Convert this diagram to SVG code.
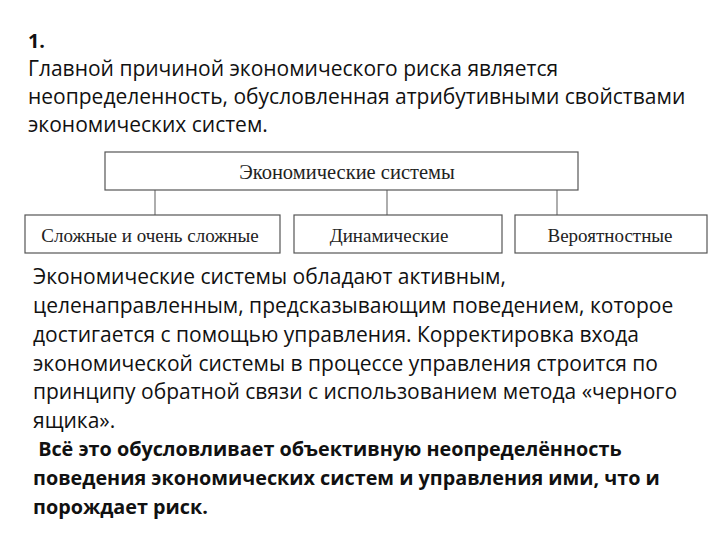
<svg xmlns="http://www.w3.org/2000/svg" width="720" height="540" viewBox="0 0 720 540">
<style>
.t{font-family:"Open Sans","Liberation Sans",sans-serif;font-size:21px;fill:#111}
.b{font-weight:bold;font-size:19.8px}
.n{font-family:"Liberation Serif",serif;font-size:19px;fill:#222;text-anchor:middle}
.box{fill:#fff;stroke:#555;stroke-width:1.2}
.c{stroke:#777;stroke-width:1.2}
</style>
<rect width="720" height="540" fill="#fff"/>
<text class="t b" x="28" y="48">1.</text>
<text class="t" x="28" y="76">Главной причиной экономического риска является</text>
<text class="t" x="28" y="104">неопределенность, обусловленная  атрибутивными свойствами</text>
<text class="t" x="28" y="132">экономических систем.</text>
<g id="connectors">
<line class="c" x1="155" y1="190" x2="155" y2="215"/>
<line class="c" x1="387" y1="190" x2="387" y2="215"/>
<line class="c" x1="557" y1="190" x2="557" y2="215"/>
</g>
<g id="n0"><rect class="box" x="105" y="152" width="473" height="38"/><text class="n" x="347" y="179" style="font-size:20.5px">Экономические системы</text></g>
<g id="n1"><rect class="box" x="25" y="215" width="255" height="38"/><text class="n" x="150" y="242">Сложные и очень сложные</text></g>
<g id="n2"><rect class="box" x="294" y="215" width="208" height="38"/><text class="n" x="389" y="242">Динамические</text></g>
<g id="n3"><rect class="box" x="515" y="215" width="192" height="38"/><text class="n" x="610" y="242">Вероятностные</text></g>
<text class="t" x="33" y="284">Экономические системы обладают активным,</text>
<text class="t" x="33" y="313">целенаправленным, предсказывающим поведением, которое</text>
<text class="t" x="33" y="342">достигается с помощью управления. Корректировка входа</text>
<text class="t" x="33" y="371">экономической системы в процессе управления строится по</text>
<text class="t" x="33" y="399">принципу обратной связи с использованием метода «черного</text>
<text class="t" x="33" y="428">ящика».</text>
<text class="t b" x="33" y="456" xml:space="preserve"> Всё это обусловливает объективную неопределённость</text>
<text class="t b" x="33" y="485">поведения экономических систем и управления ими, что и</text>
<text class="t b" x="33" y="514">порождает риск.</text>
</svg>
